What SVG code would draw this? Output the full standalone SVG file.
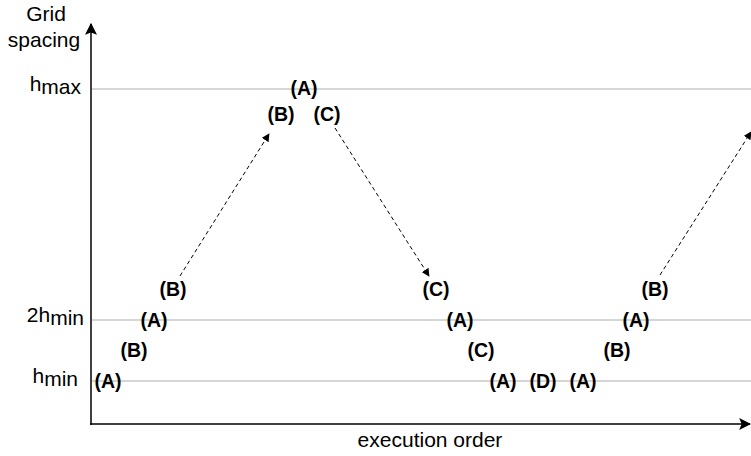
<svg xmlns="http://www.w3.org/2000/svg" width="751" height="456" viewBox="0 0 751 456">
<defs>
<style>
.grid{stroke:#c8c8c8;stroke-width:1.3;fill:none}
.axis{stroke:#000;stroke-width:1.5;fill:none}
.dash{stroke:#000;stroke-width:1;stroke-dasharray:4 3;fill:none}
.lbl{font-family:"Liberation Sans",Arial,sans-serif;font-size:21px;fill:#000}
.node{font-family:"Liberation Sans",Arial,sans-serif;font-size:19.5px;font-weight:bold;fill:#000;text-anchor:middle}
</style>
<marker id="ah" viewBox="0 0 10 10" refX="9" refY="5" markerWidth="8" markerHeight="8" orient="auto" markerUnits="userSpaceOnUse">
<path d="M0,0 L10,5 L0,10 z" fill="#000"/>
</marker>
<marker id="big" viewBox="0 0 10 10" refX="9" refY="5" markerWidth="12" markerHeight="12" orient="auto" markerUnits="userSpaceOnUse">
<path d="M0,0 L10,5 L0,10 L2,5 z" fill="#000"/>
</marker>
</defs>
<rect width="751" height="456" fill="#fff"/>
<g id="gridlines">
<line class="grid" x1="92" y1="89" x2="751" y2="89"/>
<line class="grid" x1="92" y1="320" x2="751" y2="320"/>
<line class="grid" x1="92" y1="381" x2="751" y2="381"/>
</g>
<g id="axes">
<line class="axis" x1="91" y1="425" x2="91" y2="24" marker-end="url(#big)"/>
<line class="axis" x1="90" y1="424" x2="750" y2="424" marker-end="url(#big)"/>
</g>
<g id="axis-labels">
<text class="lbl" x="46" y="21" text-anchor="middle">Grid</text>
<text class="lbl" x="44" y="47" text-anchor="middle">spacing</text>
<text class="lbl" x="81" y="91" text-anchor="end">h<tspan dy="3">max</tspan></text>
<text class="lbl" x="84" y="322" text-anchor="end">2h<tspan dy="3">min</tspan></text>
<text class="lbl" x="78" y="383" text-anchor="end">h<tspan dy="3">min</tspan></text>
<text class="lbl" x="430" y="447" text-anchor="middle">execution order</text>
</g>
<g id="connectors">
<line class="dash" x1="180" y1="276" x2="269" y2="134" marker-end="url(#ah)"/>
<line class="dash" x1="335" y1="128" x2="429" y2="276" marker-end="url(#ah)"/>
<line class="dash" x1="660" y1="275" x2="751" y2="132" marker-end="url(#ah)"/>
</g>
<g id="nodes">
<text id="n1" class="node" x="108" y="388">(A)</text>
<text id="n2" class="node" x="134" y="357">(B)</text>
<text id="n3" class="node" x="154" y="327">(A)</text>
<text id="n4" class="node" x="173" y="296">(B)</text>
<text id="n5" class="node" x="281" y="121">(B)</text>
<text id="n6" class="node" x="304" y="95">(A)</text>
<text id="n7" class="node" x="327" y="121">(C)</text>
<text id="n8" class="node" x="436" y="296">(C)</text>
<text id="n9" class="node" x="460" y="327">(A)</text>
<text id="n10" class="node" x="481" y="357">(C)</text>
<text id="n11" class="node" x="503" y="388">(A)</text>
<text id="n12" class="node" x="543" y="388">(D)</text>
<text id="n13" class="node" x="583" y="388">(A)</text>
<text id="n14" class="node" x="617" y="357">(B)</text>
<text id="n15" class="node" x="636" y="327">(A)</text>
<text id="n16" class="node" x="655" y="296">(B)</text>
</g>
</svg>
